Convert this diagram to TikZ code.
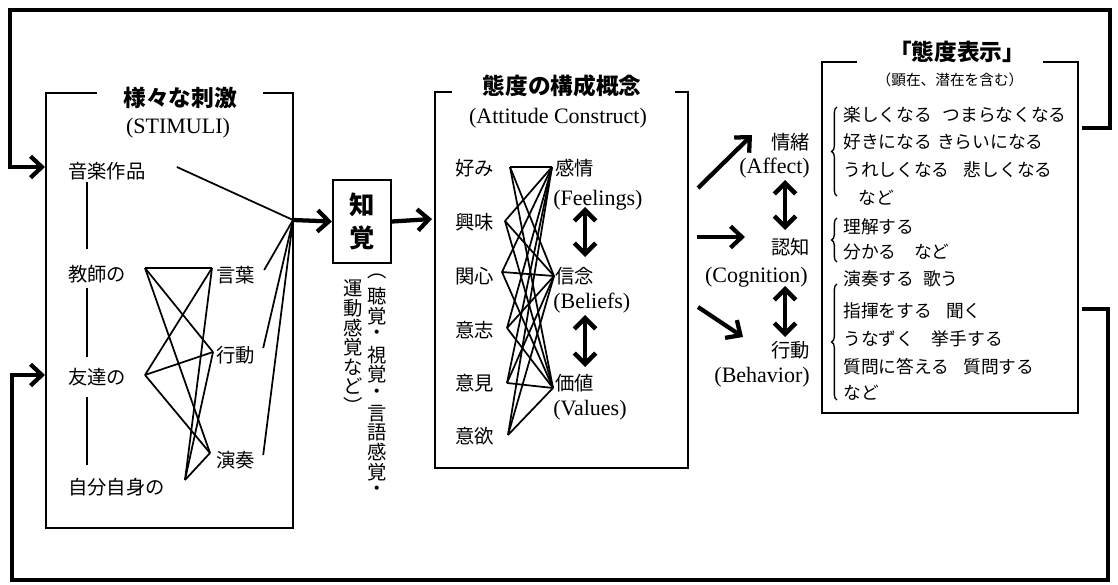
\documentclass[tikz,border=0pt]{standalone}
\usepackage{fontspec}
\setmainfont{Liberation Serif}
\newfontfamily\jp{Noto Sans CJK JP}
\usetikzlibrary{arrows.meta,decorations.pathreplacing,calc}
\begin{document}
\begin{tikzpicture}[x=0.75pt,y=-0.75pt,
  boxline/.style={line width=1.6pt},
  net/.style={line width=1.3pt},
  fb/.style={line width=3.2pt},
  arr/.style={line width=3.2pt,-{Straight Barb[length=8.5pt,width=16pt]}},
  darr/.style={line width=3.4pt,{Straight Barb[length=8pt,width=16pt]}-{Straight Barb[length=8pt,width=16pt]}},
  lab/.style={font=\jp\fontsize{14.5}{16}\selectfont,inner sep=0pt},
  labs/.style={font=\jp\fontsize{13.3}{15}\selectfont,inner sep=0pt},
  en/.style={font=\fontsize{16.5}{18}\selectfont,inner sep=0pt},
  ttl/.style={font=\jp\bfseries\fontsize{17}{19}\selectfont,inner sep=0pt},
  vt/.style={font=\jp\fontsize{14.5}{16}\selectfont,inner sep=0pt},
  brc/.style={line width=1pt,decorate,decoration={brace,amplitude=4pt}}]
\useasboundingbox (0,0) rectangle (1118,585);

% ---------- left box: stimuli ----------
\draw[boxline] (97,93) -- (46,93) -- (46,528) -- (293,528) -- (293,93) -- (263,93);
\node[ttl] (t1) at (180,98) {様々な刺激};
\node[en] (t1e) at (178,128) {(STIMULI)};

\node[lab,anchor=west] (ongaku) at (68,171) {音楽作品};
\node[lab,anchor=west] (kyoshi) at (68,274) {教師の};
\node[lab,anchor=west] (tomo) at (68,377) {友達の};
\node[lab,anchor=west] (jibun) at (68,487) {自分自身の};
\node[lab,anchor=west] (kotoba) at (216,275) {言葉};
\node[lab,anchor=west] (kodo) at (216,355) {行動};
\node[lab,anchor=west] (enso) at (216,460) {演奏};

\coordinate (vx) at (87,0);
\draw[net,shorten <=1pt,shorten >=12pt] (ongaku.south -| vx) -- (kyoshi.north -| vx);
\draw[net,shorten <=3.3pt,shorten >=7.8pt] (kyoshi.south -| vx) -- (tomo.north -| vx);
\draw[net,shorten <=7.8pt,shorten >=9.3pt] (tomo.south -| vx) -- (jibun.north -| vx);

\coordinate (a1) at (145,268);
\coordinate (a2) at (145,375);
\coordinate (a3) at (185,480);
\coordinate (b1) at (212,268);
\coordinate (b2) at (213,352);
\coordinate (b3) at (210,453);
\foreach \a in {a1,a2,a3}{\foreach \b in {b1,b2,b3}{\draw[net] (\a) -- (\b);}}

\coordinate (conv) at (293,220);
\draw[net] ($(ongaku.east)+(31,-4)$) -- (conv);
\draw[net] ($(kotoba.east)+(9,-5)$) -- (conv);
\draw[net] ($(kodo.east)+(8,-7)$) -- (conv);
\draw[net] ($(enso.east)+(8,-5)$) -- (conv);

% ---------- perception ----------
\node[draw,boxline,minimum width=43.5pt,minimum height=62pt,inner sep=0pt,
      font=\jp\bfseries\fontsize{19}{25}\selectfont,align=center] (chikaku) at (362,221.5) {知\\覚};
\draw[arr] (conv) -- (chikaku.west);

\foreach \c [count=\i] in {︵,聴,覚,・,視,覚,・,言,語,感,覚,・}
  \node[vt] (vr\i) at (377,{267+19.5*\i-9.75}) {\c};
\foreach \c [count=\i] in {運,動,感,覚,な,ど,︶}
  \node[vt] (vl\i) at (353,{279+19.5*\i-9.75}) {\c};

% ---------- middle box: attitude construct ----------
\draw[boxline] (452,92) -- (435,92) -- (435,468) -- (688,468) -- (688,92) -- (675,92);
\node[ttl] (t2) at (562,86) {態度の構成概念};
\node[en] (t2e) at (558,118) {(Attitude Construct)};
\draw[arr] (chikaku.east) -- (432,219);

\node[lab,anchor=west] (konomi) at (455,168) {好み};
\node[lab,anchor=west] (kyomi) at (455,222) {興味};
\node[lab,anchor=west] (kanshin) at (455,276) {関心};
\node[lab,anchor=west] (ishi) at (455,330) {意志};
\node[lab,anchor=west] (iken) at (455,383) {意見};
\node[lab,anchor=west] (iyoku) at (455,436) {意欲};

\node[lab,anchor=west] (kanjo) at (555,168) {感情};
\node[en,anchor=west] (feel) at (553,200) {(Feelings)};
\node[lab,anchor=west] (shinnen) at (555,276) {信念};
\node[en,anchor=west] (beli) at (553,303) {(Beliefs)};
\node[lab,anchor=west] (kachi) at (555,383) {価値};
\node[en,anchor=west] (valu) at (553,410) {(Values)};

\coordinate (l1) at (510,167);
\coordinate (l2) at (505,221);
\coordinate (l3) at (502,272);
\coordinate (l4) at (507,328);
\coordinate (l5) at (507,383);
\coordinate (l6) at (508,435);
\coordinate (r1) at (552,167);
\coordinate (r2) at (554,276);
\coordinate (r3) at (553,388);
\foreach \a in {l1,l2,l3,l4,l5,l6}{\foreach \b in {r1,r2,r3}{\draw[net] (\a) -- (\b);}}

\draw[darr] (585,207) -- (585,257);
\draw[darr] (585,315) -- (585,367);

% ---------- affect / cognition / behavior ----------
\node[lab,anchor=east] (jocho) at (810,142) {情緒};
\node[en,anchor=east] (aff) at (810,168) {(Affect)};
\node[lab,anchor=east] (ninchi) at (810,247) {認知};
\node[en,anchor=east] (cog) at (808,277) {(Cognition)};
\node[lab,anchor=east] (kodo2) at (810,350) {行動};
\node[en,anchor=east] (beh) at (810,377) {(Behavior)};

\coordinate (o1) at (698,188);
\coordinate (o2) at (697,237);
\coordinate (o3) at (698,307);
\draw[arr] (o1) -- (752,135);
\draw[arr] (o2) -- (745,237);
\draw[arr] (o3) -- (743,337);

\draw[darr] (785,180) -- (785,230);
\draw[darr] (785,286) -- (785,337);

% ---------- right box: attitude display ----------
\draw[boxline] (857,62) -- (822,62) -- (822,413) -- (1078,413) -- (1078,62) -- (1043,62);
\node[ttl] (t3) at (957,52) {「態度表示」};
\node[font=\jp\fontsize{11}{13}\selectfont,inner sep=0pt] (t3s) at (950,80) {（顕在、潜在を含む）};

\node[labs,anchor=west] (d1) at (843,115) {楽しくなる\hspace{0.6em}つまらなくなる};
\node[labs,anchor=west] (d2) at (843,142) {好きになる\hspace{0.3em}きらいになる};
\node[labs,anchor=west] (d3) at (843,170) {うれしくなる\hspace{0.8em}悲しくなる};
\node[labs,anchor=west] (d4) at (858,198) {など};
\node[labs,anchor=west] (d5) at (843,227) {理解する};
\node[labs,anchor=west] (d6) at (843,252) {分かる\hspace{1em}など};
\node[labs,anchor=west] (d7) at (843,279) {演奏する\hspace{0.5em}歌う};
\node[labs,anchor=west] (d8) at (843,311) {指揮をする\hspace{0.8em}聞く};
\node[labs,anchor=west] (d9) at (843,339) {うなずく\hspace{1em}挙手する};
\node[labs,anchor=west] (d10) at (843,367) {質問に答える\hspace{0.8em}質問する};
\node[labs,anchor=west] (d11) at (843,393) {など};

\draw[brc] (837,196) -- (837,107);
\draw[brc] (837,262) -- (837,218);
\draw[brc] (837,400) -- (837,284);

% ---------- feedback loops ----------
\coordinate (fbt) at (1082,128);
\coordinate (fbb) at (1082,309);
\draw[fb,-{Straight Barb[length=8.5pt,width=16pt]}] (fbt) -- (1110,128) -- (1110,10) -- (10,10) -- (10,167) -- (45,167);
\draw[fb,-{Straight Barb[length=8.5pt,width=16pt]}] (fbb) -- (1108,309) -- (1108,580) -- (12,580) -- (12,375) -- (45,375);
\end{tikzpicture}
\end{document}
